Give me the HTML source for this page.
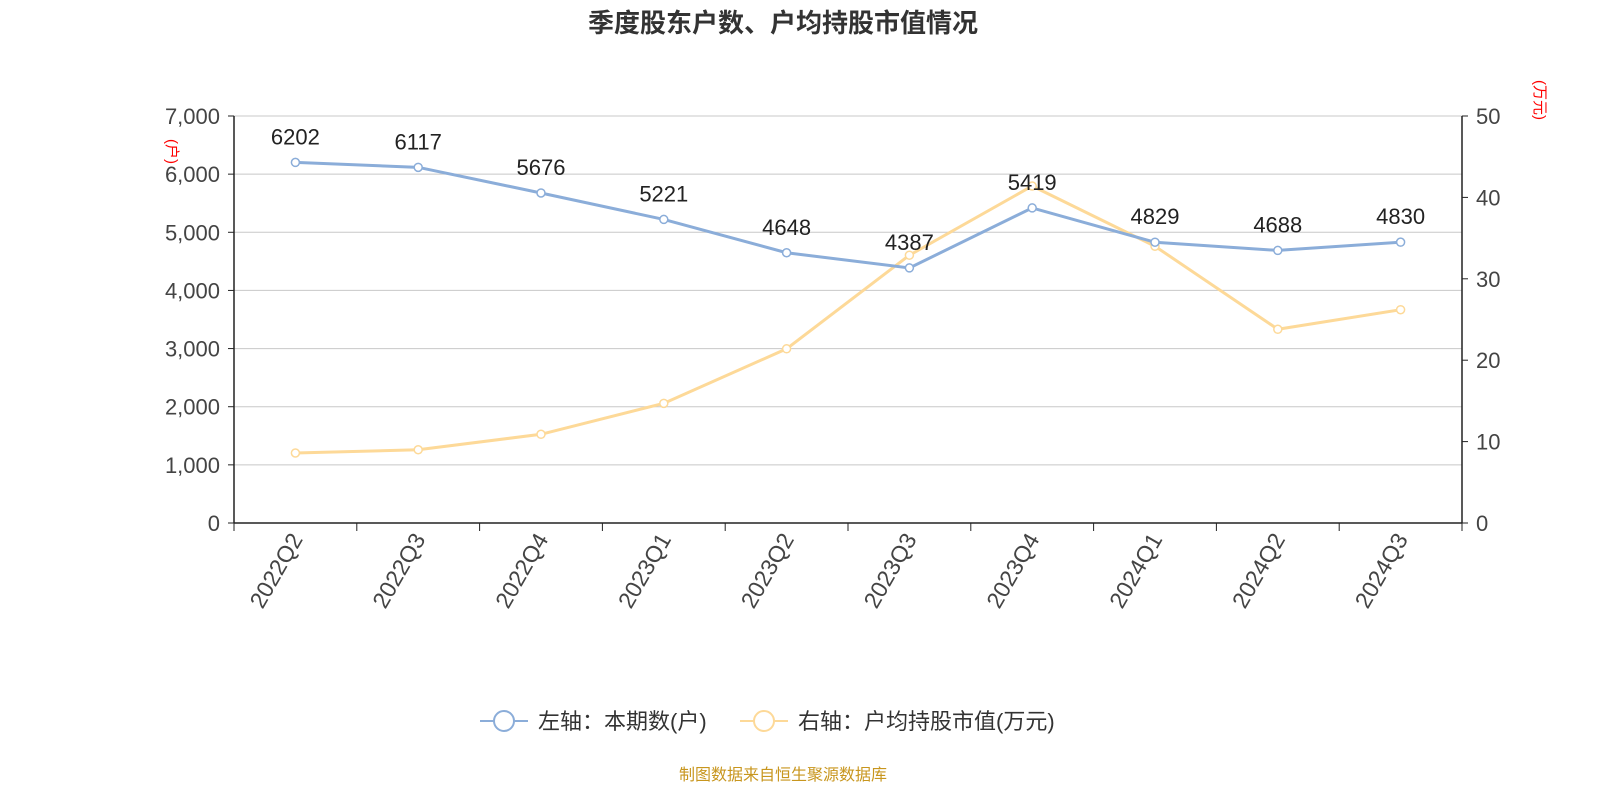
<!DOCTYPE html>
<html><head><meta charset="utf-8"><style>
body{margin:0;background:#fff;}
svg{display:block;font-family:"Liberation Sans","Noto Sans CJK SC",sans-serif;}
</style></head><body>
<svg id="c" width="1600" height="800"></svg>
<script>
const categories=["2022Q2","2022Q3","2022Q4","2023Q1","2023Q2","2023Q3","2023Q4","2024Q1","2024Q2","2024Q3"];
const holders=[6202,6117,5676,5221,4648,4387,5419,4829,4688,4830];
const avgValue=[8.6,9.0,10.9,14.7,21.4,32.9,41.4,34.0,23.8,26.2];
const leftTicks=[0,1000,2000,3000,4000,5000,6000,7000];
const rightTicks=[0,10,20,30,40,50];
const NS="http://www.w3.org/2000/svg";
const svg=document.getElementById('c');
const X0=234,X1=1462,YT=116,YB=523;
const bw=(X1-X0)/categories.length;
const xs=i=>X0+bw*(i+0.5);
const yl=v=>YB-(v/7000)*(YB-YT);
const yr=v=>YB-(v/50)*(YB-YT);
function mk(tag,attrs,parent){const e=document.createElementNS(NS,tag);for(const k in attrs)e.setAttribute(k,attrs[k]);(parent||svg).appendChild(e);return e;}
let t=mk('text',{x:783,y:32,'text-anchor':'middle','font-size':26,'font-weight':'bold',fill:'#333'});t.textContent='季度股东户数、户均持股市值情况';


leftTicks.forEach(v=>{const y=yl(v);
 const g=mk('line',{x1:X0,x2:X1,y1:y,y2:y,stroke:v===0?'#222':'#c8c8c8','stroke-width':v===0?1.5:1});
 
 
 mk('line',{x1:X0-6,x2:X0,y1:y,y2:y,stroke:'#222'});
 const l=mk('text',{x:X0-14,y:y+8,'text-anchor':'end','font-size':22,fill:'#444'});l.textContent=v.toLocaleString('en-US');
 
 
});
rightTicks.forEach(v=>{const y=yr(v);
 mk('line',{x1:X1,x2:X1+6,y1:y,y2:y,stroke:'#222'});
 const l=mk('text',{x:X1+14,y:y+8,'font-size':22,fill:'#444'});l.textContent=v;
 
 
});
mk('line',{x1:X0,x2:X0,y1:YT,y2:YB,stroke:'#222','stroke-width':1.5});
mk('line',{x1:X1,x2:X1,y1:YT,y2:YB,stroke:'#222','stroke-width':1.5});
for(let i=0;i<=categories.length;i++){const x=X0+bw*i;mk('line',{x1:x,x2:x,y1:YB,y2:YB+8,stroke:'#222'});}
categories.forEach((c,i)=>{const x=xs(i);
 const l=mk('text',{x:x+8,y:YB+16,'text-anchor':'end','font-size':23,fill:'#444',transform:`rotate(-60 ${x+8} ${YB+16})`});l.textContent=c;
 
 
});
let a=mk('text',{x:0,y:0,'font-size':15,fill:'red',transform:'translate(167,139) rotate(90)'});a.textContent='(户)';


a=mk('text',{x:0,y:0,'font-size':15,fill:'red',transform:'translate(1535,80) rotate(90)'});a.textContent='(万元)';


function series(vals,yf,color,name,labels){
 const p=mk('polyline',{points:vals.map((v,i)=>xs(i)+','+yf(v)).join(' '),fill:'none',stroke:color,'stroke-width':3});
 
 
 vals.forEach((v,i)=>{const c=mk('circle',{cx:xs(i),cy:yf(v),r:4,fill:'#fff',stroke:color,'stroke-width':1.5});
  
  
  if(labels){const l=mk('text',{x:xs(i),y:yf(v)-18,'text-anchor':'middle','font-size':22,fill:'#222'});l.textContent=v;
   
   }
 });
}
series(avgValue,yr,'#fdd998','avg-value',false);
series(holders,yl,'#8badd9','holders',true);
mk('line',{x1:480,x2:528,y1:721,y2:721,stroke:'#8badd9','stroke-width':2});
let lc=mk('circle',{cx:504,cy:721,r:10,fill:'#fff',stroke:'#8badd9','stroke-width':2});


let lt=mk('text',{x:538,y:729,'font-size':22,fill:'#333'});lt.textContent='左轴：本期数(户)';


mk('line',{x1:740,x2:788,y1:721,y2:721,stroke:'#fdd998','stroke-width':2});
lc=mk('circle',{cx:764,cy:721,r:10,fill:'#fff',stroke:'#fdd998','stroke-width':2});


lt=mk('text',{x:798,y:729,'font-size':22,fill:'#333'});lt.textContent='右轴：户均持股市值(万元)';


lt=mk('text',{x:783,y:780,'text-anchor':'middle','font-size':16,fill:'#c8961e'});lt.textContent='制图数据来自恒生聚源数据库';


</script>
</body></html>
